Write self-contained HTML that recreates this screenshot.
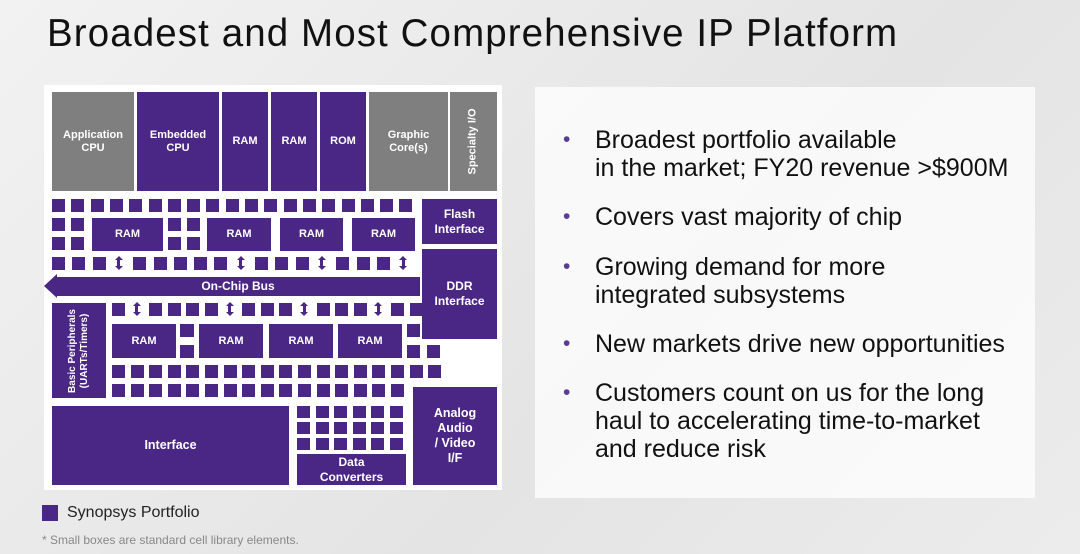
<!DOCTYPE html>
<html><head><meta charset="utf-8"><style>
body{margin:0;width:1080px;height:554px;overflow:hidden;background:linear-gradient(135deg,#f2f2f2,#e4e4e4 60%,#ececec);font-family:"Liberation Sans",sans-serif;position:relative}
.a{position:absolute}
.p{position:absolute;background:#4a2685;color:#fff;font-weight:bold;font-size:11px;display:flex;align-items:center;justify-content:center;text-align:center;line-height:13px}
.g{background:#7f7f7f}
.t{position:absolute;font-size:25px;color:#111;line-height:28px}
.b{position:absolute;color:#5b3a96;font-size:21px;line-height:28px}
</style></head><body>
<div class="a" style="left:47px;top:12px;font-size:38.5px;color:#111;letter-spacing:1.1px;white-space:nowrap">Broadest and Most Comprehensive IP Platform</div>
<div class="a" style="left:44px;top:85px;width:458px;height:405px;background:#fff"></div>
<div class="a" style="left:535px;top:87px;width:500px;height:411px;background:rgba(255,255,255,0.75)"></div>
<div id="c"></div>
<div class="p g" style="left:52px;top:92px;width:82px;height:99px">Application<br>CPU</div>
<div class="p" style="left:137px;top:92px;width:82px;height:99px">Embedded<br>CPU</div>
<div class="p" style="left:222px;top:92px;width:46px;height:99px">RAM</div>
<div class="p" style="left:271px;top:92px;width:46px;height:99px">RAM</div>
<div class="p" style="left:320px;top:92px;width:46px;height:99px">ROM</div>
<div class="p g" style="left:369px;top:92px;width:79px;height:99px">Graphic<br>Core(s)</div>
<div class="p g" style="left:450px;top:92px;width:47px;height:99px"><span style="transform:rotate(-90deg);white-space:nowrap">Specialty I/O</span></div>
<div class="p" style="left:422px;top:199px;width:75px;height:45px;font-size:12px;line-height:15px">Flash<br>Interface</div>
<div class="p" style="left:92px;top:218px;width:71px;height:33px">RAM</div>
<div class="p" style="left:207px;top:218px;width:64px;height:33px">RAM</div>
<div class="p" style="left:280px;top:218px;width:63px;height:33px">RAM</div>
<div class="p" style="left:352px;top:218px;width:63px;height:33px">RAM</div>
<div class="p" style="left:422px;top:249px;width:75px;height:90px;font-size:12px;line-height:15px">DDR<br>Interface</div>
<div class="p" style="left:56px;top:277px;width:364px;height:19px;font-size:12px">On-Chip Bus</div>
<div class="a" style="left:44px;top:274px;width:0;height:0;border-top:12.5px solid transparent;border-bottom:12.5px solid transparent;border-right:13px solid #4a2685"></div>
<div class="p" style="left:52px;top:303px;width:54px;height:95px;font-size:10px;line-height:12px"><span style="transform:rotate(-90deg);white-space:nowrap">Basic Peripherals<br>(UARTs/Timers)</span></div>
<div class="p" style="left:112px;top:324px;width:64px;height:34px">RAM</div>
<div class="p" style="left:199px;top:324px;width:64px;height:34px">RAM</div>
<div class="p" style="left:269px;top:324px;width:64px;height:34px">RAM</div>
<div class="p" style="left:338px;top:324px;width:64px;height:34px">RAM</div>
<div class="p" style="left:52px;top:406px;width:237px;height:79px;font-size:12.5px">Interface</div>
<div class="p" style="left:297px;top:454px;width:109px;height:31px;font-size:12px;line-height:15px">Data<br>Converters</div>
<div class="p" style="left:413px;top:387px;width:84px;height:98px;font-size:12.5px;line-height:15px">Analog<br>Audio<br>/ Video<br>I/F</div>
<div class="a" style="left:42px;top:505px;width:16px;height:16px;background:#4a2685"></div>
<div class="a" style="left:67px;top:504px;font-size:16px;color:#222">Synopsys Portfolio</div>
<div class="a" style="left:42px;top:533px;font-size:12px;color:#888">* Small boxes are standard cell library elements.</div>
<div class="b" style="left:563px;top:126px">•</div><div class="t" style="left:595px;top:126px">Broadest portfolio available<br>in the market; FY20 revenue &gt;$900M</div>
<div class="b" style="left:563px;top:203px">•</div><div class="t" style="left:595px;top:203px">Covers vast majority of chip</div>
<div class="b" style="left:563px;top:253px">•</div><div class="t" style="left:595px;top:253px">Growing demand for more<br>integrated subsystems</div>
<div class="b" style="left:563px;top:330px">•</div><div class="t" style="left:595px;top:330px">New markets drive new opportunities</div>
<div class="b" style="left:563px;top:379px">•</div><div class="t" style="left:595px;top:379px">Customers count on us for the long<br>haul to accelerating time-to-market<br>and reduce risk</div>
<script>
var c=document.getElementById('c'),h='';
function s(x,y,w,hh){h+='<div class="a" style="left:'+x+'px;top:'+y+'px;width:'+(w||13)+'px;height:'+(hh||13)+'px;background:#4a2685"></div>';}
function ar(x,y){h+='<div class="a" style="left:'+(x-1.5)+'px;top:'+(y+3)+'px;width:3px;height:8px;background:#4a2685"></div><div class="a" style="left:'+(x-4)+'px;top:'+y+'px;border-left:4px solid transparent;border-right:4px solid transparent;border-bottom:4px solid #4a2685"></div><div class="a" style="left:'+(x-4)+'px;top:'+(y+10)+'px;border-left:4px solid transparent;border-right:4px solid transparent;border-top:4px solid #4a2685"></div>';}
var i;
for(i=0;i<19;i++)s(52+i*19.3,199);
s(52,218);s(71,218);s(52,237);s(71,237);s(168,218);s(187,218);s(168,237);s(187,237);
for(i=0;i<18;i++){var x=52+i*20.3;if([3,9,13,17].indexOf(i)>=0)ar(x+6,256);else s(x,257);}
for(i=0;i<17;i++){var x=112+i*18.6;if([1,6,10,14].indexOf(i)>=0)ar(x+6,302);else s(x,303);}
s(180,324,14,13);s(180,345,14,13);s(407,324);s(407,345);s(427,345);
for(i=0;i<18;i++)s(112+i*18.6,365);
for(i=0;i<16;i++)s(112+i*18.6,384);
for(var r=0;r<3;r++)for(i=0;i<6;i++)s(297+i*18.5,406+r*16,13,12);
c.innerHTML=h;
</script>
</body></html>
